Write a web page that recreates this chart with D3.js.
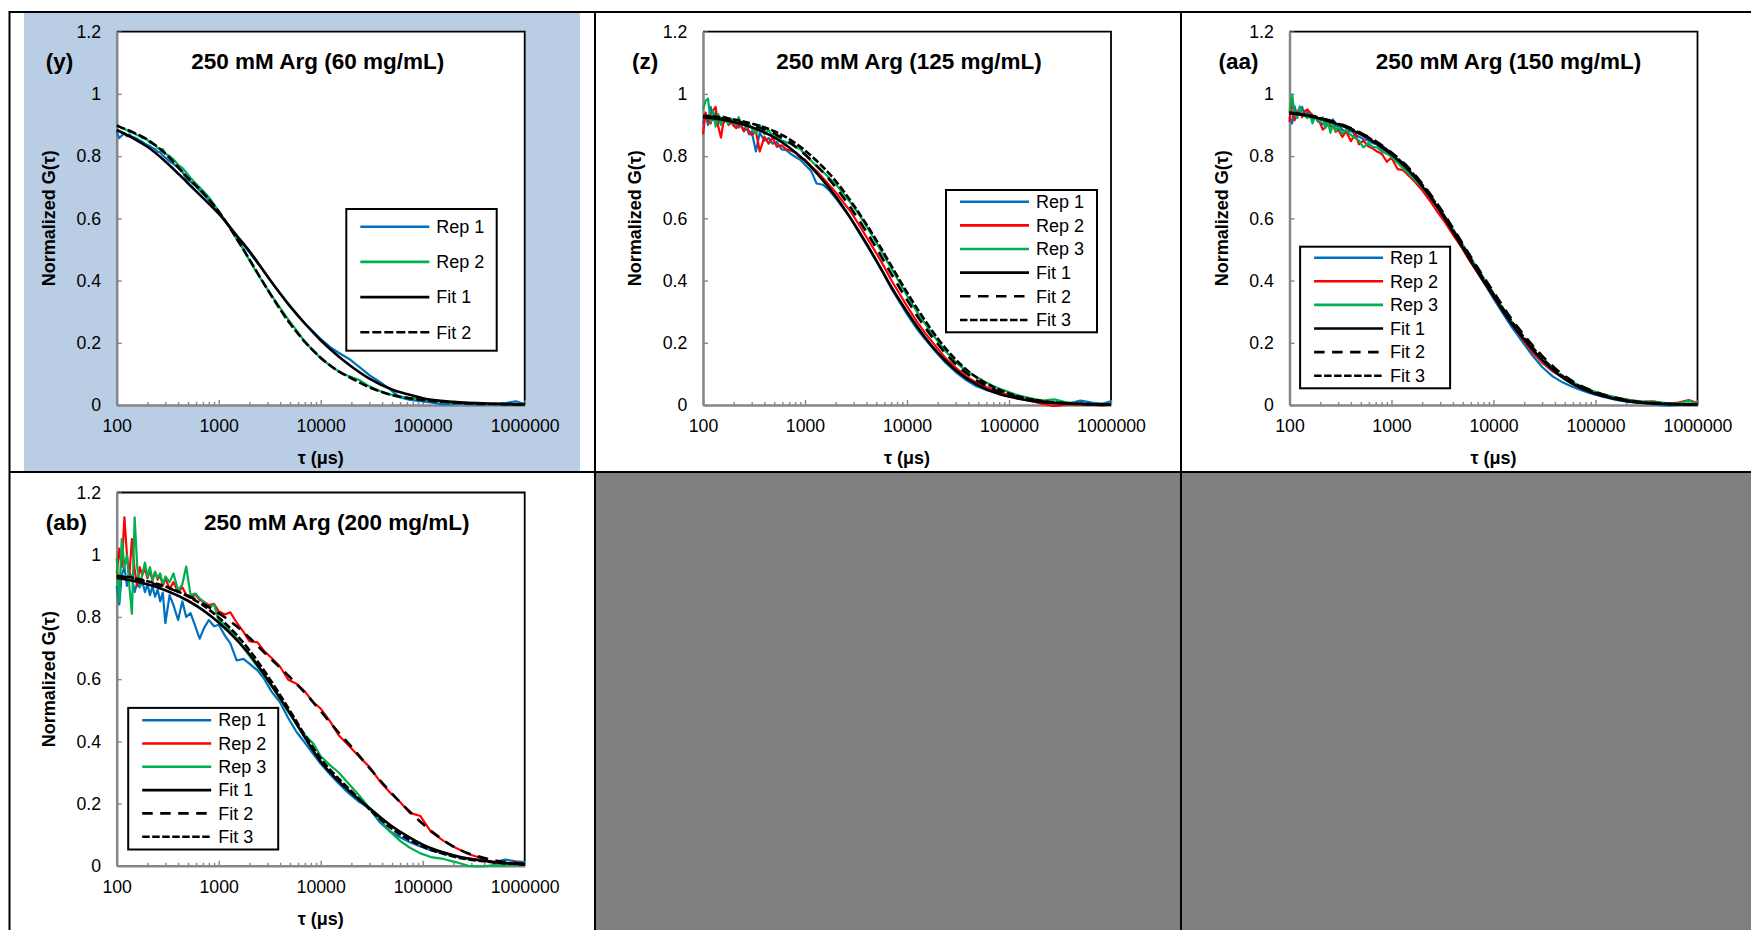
<!DOCTYPE html>
<html>
<head>
<meta charset="utf-8">
<script src="https://cdn.jsdelivr.net/npm/d3@7"></script>
<style>
  html, body { margin: 0; padding: 0; background: #fff; }
  svg { display: block; }
</style>
</head>
<body>
<svg id="fig" width="1751" height="930"></svg>
<script>
// ---------------- data ----------------
// lag times (µs) of the fitted curves
const tauFit = [100,150,200,300,500,700,1000,1500,2000,3000,5000,7000,10000,15000,20000,30000,50000,70000,100000,200000,500000,1000000];
// lag times (µs) of the measured replicates
const tauRep = [100,106,112,119,126,133,141,150,159,168,
  178,189,200,212,224,238,252,267,283,300,
  330,360,400,440,480,530,590,650,720,800,
  900,1000,1150,1300,1500,1750,2000,2400,2800,3300,
  4000,4800,5800,7000,8500,10000,12500,15000,19000,24000,
  30000,38000,48000,60000,75000,95000,120000,160000,210000,280000,
  370000,500000,650000,820000,1000000];

// axis ticks
const xTicks = [100,1000,10000,100000,1000000];
const xTickLabels = ["100","1000","10000","100000","1000000"];
const yTicks = [0,0.2,0.4,0.6,0.8,1,1.2];
const yTickLabels = ["0","0.2","0.4","0.6","0.8","1","1.2"];

// (y) 250 mM Arg, 60 mg/mL
const y_rep1 = [0.878,0.858,0.866,0.874,0.864,0.870,0.862,0.860,0.856,0.850,
  0.846,0.840,0.836,0.832,0.826,0.822,0.814,0.812,0.802,0.795,
  0.783,0.775,0.762,0.750,0.728,0.718,0.705,0.690,0.675,0.660,
  0.640,0.620,0.594,0.570,0.542,0.515,0.490,0.456,0.428,0.394,
  0.358,0.324,0.292,0.262,0.235,0.212,0.185,0.168,0.148,0.122,
  0.096,0.074,0.050,0.024,0.016,0.012,0.008,0.002,0.004,0.003,
  0.001,0.004,0.006,0.012,0.003];
const y_rep2 = [0.902,0.896,0.890,0.887,0.884,0.878,0.877,0.872,0.868,0.866,
  0.858,0.857,0.852,0.843,0.840,0.836,0.826,0.822,0.823,0.808,
  0.800,0.790,0.772,0.762,0.748,0.730,0.714,0.700,0.685,0.668,
  0.645,0.622,0.595,0.568,0.533,0.500,0.465,0.422,0.388,0.352,
  0.312,0.275,0.240,0.203,0.174,0.150,0.126,0.108,0.092,0.080,
  0.060,0.045,0.034,0.027,0.022,0.017,0.013,0.010,0.007,0.005,
  0.004,0.003,0.002,0.002,0.001];
const y_fit1 = [0.884,0.855,0.830,0.783,0.713,0.666,0.615,0.545,0.495,0.414,0.318,0.262,0.208,0.156,0.124,0.085,0.050,0.035,0.022,0.010,0.004,0.002];
const y_fit2 = [0.898,0.874,0.853,0.808,0.730,0.683,0.622,0.535,0.468,0.372,0.262,0.203,0.152,0.108,0.086,0.057,0.032,0.023,0.016,0.008,0.003,0.002];

// (z) 250 mM Arg, 125 mg/mL
const z_rep1 = [0.905,0.935,0.900,0.958,0.915,0.940,0.905,0.922,0.908,0.918,
  0.905,0.912,0.898,0.905,0.892,0.900,0.880,0.892,0.870,0.880,
  0.815,0.875,0.850,0.858,0.840,0.845,0.822,0.820,0.808,0.798,
  0.788,0.772,0.752,0.712,0.708,0.688,0.665,0.630,0.600,0.560,
  0.515,0.472,0.425,0.375,0.330,0.292,0.245,0.212,0.172,0.135,
  0.106,0.080,0.060,0.048,0.040,0.030,0.022,0.014,0.010,0.004,
  0.003,0.014,0.008,0.004,0.012];
const z_rep2 = [0.870,0.940,0.915,0.905,0.948,0.958,0.895,0.860,0.912,0.925,
  0.900,0.908,0.898,0.890,0.905,0.895,0.880,0.900,0.878,0.868,
  0.880,0.815,0.862,0.840,0.860,0.830,0.835,0.822,0.818,0.812,
  0.795,0.788,0.768,0.752,0.730,0.705,0.684,0.650,0.622,0.585,
  0.540,0.498,0.452,0.402,0.356,0.318,0.268,0.232,0.190,0.150,
  0.120,0.092,0.072,0.058,0.046,0.034,0.024,0.014,0.004,-0.004,
  0.002,0.003,0.001,-0.002,0.002];
const z_rep3 = [0.950,0.978,0.985,0.910,0.945,0.895,0.935,0.900,0.928,0.912,
  0.905,0.920,0.905,0.912,0.925,0.900,0.908,0.890,0.905,0.890,
  0.872,0.900,0.870,0.885,0.862,0.862,0.850,0.845,0.840,0.830,
  0.822,0.805,0.785,0.768,0.750,0.728,0.710,0.678,0.650,0.618,
  0.575,0.532,0.485,0.440,0.392,0.352,0.300,0.262,0.215,0.172,
  0.138,0.110,0.090,0.072,0.056,0.044,0.032,0.022,0.014,0.018,
  0.008,0.004,0.003,0.001,0.003];
const z_fit1 = [0.925,0.918,0.910,0.893,0.860,0.828,0.785,0.722,0.670,0.585,0.465,0.380,0.300,0.218,0.168,0.112,0.063,0.042,0.027,0.010,0.003,0.001];
const z_fit2 = [0.928,0.922,0.915,0.900,0.872,0.845,0.805,0.748,0.700,0.620,0.505,0.422,0.338,0.250,0.196,0.132,0.076,0.051,0.033,0.012,0.004,0.001];
const z_fit3 = [0.930,0.925,0.918,0.905,0.880,0.855,0.818,0.765,0.720,0.642,0.530,0.448,0.362,0.272,0.214,0.146,0.085,0.058,0.037,0.014,0.004,0.001];

// (aa) 250 mM Arg, 150 mg/mL
const aa_rep1 = [0.925,0.905,0.960,0.930,0.948,0.958,0.930,0.945,0.925,0.918,
  0.930,0.912,0.908,0.902,0.915,0.898,0.905,0.918,0.895,0.900,
  0.885,0.878,0.882,0.870,0.862,0.855,0.850,0.842,0.838,0.822,
  0.815,0.800,0.782,0.762,0.745,0.720,0.698,0.665,0.636,0.600,
  0.558,0.515,0.470,0.425,0.380,0.342,0.292,0.252,0.205,0.160,
  0.122,0.092,0.072,0.058,0.046,0.035,0.026,0.016,0.010,0.006,
  0.003,-0.002,0.001,0.004,0.002];
const aa_rep2 = [0.910,0.990,0.915,0.940,0.955,0.925,0.945,0.950,0.940,0.932,
  0.925,0.918,0.905,0.885,0.892,0.915,0.895,0.900,0.878,0.885,
  0.862,0.880,0.848,0.872,0.838,0.850,0.832,0.825,0.815,0.808,
  0.782,0.795,0.758,0.755,0.735,0.712,0.690,0.655,0.622,0.590,
  0.548,0.510,0.465,0.425,0.382,0.348,0.300,0.262,0.214,0.170,
  0.136,0.108,0.088,0.068,0.055,0.040,0.030,0.022,0.017,0.010,
  0.012,0.004,0.008,0.016,0.006];
const aa_rep3 = [0.940,0.998,0.935,0.922,0.960,0.935,0.930,0.922,0.935,0.905,
  0.928,0.918,0.910,0.925,0.890,0.912,0.875,0.905,0.880,0.895,
  0.872,0.885,0.868,0.858,0.850,0.828,0.842,0.830,0.828,0.815,
  0.808,0.798,0.778,0.760,0.742,0.718,0.700,0.668,0.640,0.605,
  0.565,0.525,0.480,0.438,0.395,0.358,0.308,0.270,0.222,0.178,
  0.142,0.112,0.090,0.072,0.058,0.045,0.034,0.025,0.016,0.012,
  0.010,0.006,0.005,0.014,0.004];
const aa_fit1 = [0.938,0.930,0.920,0.902,0.870,0.842,0.805,0.752,0.703,0.622,0.505,0.427,0.350,0.262,0.210,0.145,0.083,0.056,0.036,0.013,0.003,0.001];
const aa_fit2 = [0.940,0.932,0.923,0.906,0.875,0.848,0.812,0.760,0.712,0.633,0.518,0.441,0.364,0.277,0.224,0.158,0.093,0.064,0.042,0.016,0.004,0.001];
const aa_fit3 = [0.939,0.931,0.922,0.904,0.873,0.845,0.809,0.756,0.708,0.628,0.512,0.434,0.357,0.270,0.217,0.151,0.088,0.060,0.039,0.014,0.004,0.001];

// (ab) 250 mM Arg, 200 mg/mL
const ab_rep1 = [0.900,0.840,0.935,0.960,0.900,0.945,0.925,0.880,0.910,0.895,
  0.915,0.880,0.905,0.870,0.898,0.865,0.888,0.850,0.878,0.780,
  0.870,0.838,0.790,0.850,0.800,0.812,0.770,0.730,0.765,0.790,
  0.770,0.775,0.740,0.715,0.660,0.665,0.650,0.628,0.600,0.560,
  0.525,0.475,0.430,0.395,0.358,0.328,0.292,0.265,0.232,0.205,
  0.185,0.140,0.110,0.092,0.076,0.062,0.050,0.040,0.030,0.024,
  0.018,0.012,0.020,0.014,0.012];
const ab_rep2 = [0.940,1.020,0.960,1.120,1.000,0.930,1.050,0.950,0.900,0.960,
  0.935,0.955,0.925,0.948,0.918,0.945,0.920,0.935,0.900,0.925,
  0.890,0.912,0.880,0.895,0.872,0.862,0.872,0.855,0.848,0.838,
  0.842,0.818,0.808,0.815,0.782,0.752,0.722,0.718,0.690,0.668,
  0.640,0.598,0.585,0.560,0.525,0.505,0.462,0.420,0.385,0.350,
  0.318,0.272,0.235,0.205,0.170,0.160,0.110,0.080,0.058,0.038,
  0.025,0.010,0.005,0.012,0.004];
const ab_rep3 = [0.990,0.850,1.050,0.960,1.000,0.900,0.810,1.120,0.960,0.900,
  0.935,0.975,0.930,0.960,0.918,0.945,0.925,0.940,0.905,0.930,
  0.912,0.940,0.885,0.905,0.962,0.870,0.875,0.860,0.848,0.830,
  0.840,0.790,0.775,0.755,0.732,0.700,0.675,0.640,0.610,0.580,
  0.535,0.495,0.455,0.420,0.392,0.352,0.322,0.300,0.262,0.225,
  0.185,0.148,0.110,0.080,0.058,0.040,0.028,0.022,0.012,0.000,
  -0.003,0.002,0.001,0.004,0.003];
const ab_fit1 = [0.925,0.915,0.905,0.886,0.852,0.822,0.782,0.726,0.680,0.600,0.490,0.412,0.335,0.272,0.234,0.186,0.127,0.096,0.068,0.034,0.012,0.005];
const ab_fit2 = [0.931,0.922,0.912,0.895,0.868,0.843,0.812,0.770,0.733,0.676,0.606,0.556,0.497,0.428,0.383,0.315,0.232,0.183,0.135,0.062,0.018,0.006];
const ab_fit3 = [0.932,0.925,0.915,0.898,0.866,0.838,0.798,0.742,0.693,0.612,0.498,0.420,0.345,0.280,0.240,0.182,0.119,0.088,0.062,0.030,0.011,0.004];

// ---------------- styles ----------------
const FONT = "'Liberation Sans', Arial, Helvetica, sans-serif";
const BLUE = "#0070C0", RED = "#FF0000", GREEN = "#00B050";
const AXIS_GRAY = "#868686";
const LONG_DASH = "10.5,7.5", SHORT_DASH = "7.5,2.5";
const PW = 408, PH = 373.3;

const panels = [
  { id: "y", label: "(y)", title: "250 mM Arg (60 mg/mL)", left: 116.7, top: 31.7, titleCx: 201,
    legend: { x: 229.6, y: 177.3, w: 150.4, h: 141.7, first: 17.7, step: 35.2 },
    reps: [ { name: "Rep 1", y: y_rep1, color: BLUE }, { name: "Rep 2", y: y_rep2, color: GREEN } ],
    fits: [ { name: "Fit 1", y: y_fit1, dash: null }, { name: "Fit 2", y: y_fit2, dash: "9,3" } ] },
  { id: "z", label: "(z)", title: "250 mM Arg (125 mg/mL)", left: 703, top: 31.7, titleCx: 206,
    legend: { x: 243, y: 158.3, w: 151, h: 142.3, first: 11.7, step: 23.65 },
    reps: [ { name: "Rep 1", y: z_rep1, color: BLUE }, { name: "Rep 2", y: z_rep2, color: RED }, { name: "Rep 3", y: z_rep3, color: GREEN } ],
    fits: [ { name: "Fit 1", y: z_fit1, dash: null }, { name: "Fit 2", y: z_fit2, dash: LONG_DASH }, { name: "Fit 3", y: z_fit3, dash: SHORT_DASH } ] },
  { id: "aa", label: "(aa)", title: "250 mM Arg (150 mg/mL)", left: 1289.5, top: 31.7, titleCx: 219,
    legend: { x: 10.6, y: 215, w: 150, h: 141.6, first: 11, step: 23.6 },
    reps: [ { name: "Rep 1", y: aa_rep1, color: BLUE }, { name: "Rep 2", y: aa_rep2, color: RED }, { name: "Rep 3", y: aa_rep3, color: GREEN } ],
    fits: [ { name: "Fit 1", y: aa_fit1, dash: null }, { name: "Fit 2", y: aa_fit2, dash: LONG_DASH }, { name: "Fit 3", y: aa_fit3, dash: SHORT_DASH } ] },
  { id: "ab", label: "(ab)", title: "250 mM Arg (200 mg/mL)", left: 116.7, top: 492.5, titleCx: 220,
    legend: { x: 11.5, y: 215.4, w: 150, h: 141.6, first: 12.3, step: 23.3 },
    reps: [ { name: "Rep 1", y: ab_rep1, color: BLUE }, { name: "Rep 2", y: ab_rep2, color: RED }, { name: "Rep 3", y: ab_rep3, color: GREEN } ],
    fits: [ { name: "Fit 1", y: ab_fit1, dash: null }, { name: "Fit 2", y: ab_fit2, dash: LONG_DASH }, { name: "Fit 3", y: ab_fit3, dash: SHORT_DASH } ] }
];

// ---------------- page table ----------------
const svg = d3.select("#fig");
svg.append("rect").attr("x", 24).attr("y", 13).attr("width", 556).attr("height", 458.5).attr("fill", "#B9CDE5");
svg.append("rect").attr("x", 596).attr("y", 473).attr("width", 584).attr("height", 457).attr("fill", "#808080");
svg.append("rect").attr("x", 1182).attr("y", 473).attr("width", 569).attr("height", 457).attr("fill", "#808080");

const rules = [[9.5, 12, 1751, 12], [9.5, 11, 9.5, 930], [595, 11, 595, 930], [1181, 11, 1181, 930], [9.5, 472, 1751, 472]];
svg.append("g").selectAll("line").data(rules).join("line")
  .attr("x1", d => d[0]).attr("y1", d => d[1]).attr("x2", d => d[2]).attr("y2", d => d[3])
  .attr("stroke", "#000").attr("stroke-width", 2);

// minor ticks on the log axis: 2..9 within each decade
const xMinor = xTicks.slice(0, -1).flatMap(d => [2, 3, 4, 5, 6, 7, 8, 9].map(m => m * d));

function styleAxis(sel) {
  sel.attr("font-family", FONT).attr("font-size", 17.7);
  sel.select(".domain").attr("stroke", AXIS_GRAY).attr("stroke-width", 2.5);
  sel.selectAll(".tick line").attr("stroke", AXIS_GRAY).attr("stroke-width", 1.4);
  sel.selectAll(".tick text").attr("fill", "#000");
}

function drawPanel(p) {
  const g = svg.append("g").attr("transform", `translate(${p.left},${p.top})`);
  const x = d3.scaleLog().domain([100, 1e6]).range([0, PW]);
  const y = d3.scaleLinear().domain([0, 1.2]).range([PH, 0]);

  const clipId = "clip-" + p.id;
  g.append("clipPath").attr("id", clipId)
    .append("rect").attr("x", -2).attr("y", -2).attr("width", PW + 4).attr("height", PH + 4);

  // plot area
  g.append("rect").attr("width", PW).attr("height", PH).attr("fill", "#fff");
  g.append("path").attr("d", `M0,0H${PW}V${PH}`).attr("fill", "none")
    .attr("stroke", "#000").attr("stroke-width", 1.8);

  // x axis: minor then major ticks (inside)
  g.append("g").attr("transform", `translate(0,${PH})`)
    .call(d3.axisBottom(x).tickValues(xMinor).tickSize(-3).tickSizeOuter(0).tickFormat(""))
    .call(styleAxis)
    .call(s => s.select(".domain").remove());
  g.append("g").attr("transform", `translate(0,${PH})`)
    .call(d3.axisBottom(x).tickValues(xTicks).tickSize(-5).tickSizeOuter(0).tickPadding(14.5)
      .tickFormat((d, i) => xTickLabels[i]))
    .call(styleAxis);

  // y axis
  g.append("g")
    .call(d3.axisLeft(y).tickValues(yTicks).tickSize(-5).tickSizeOuter(0).tickPadding(15.7)
      .tickFormat((d, i) => yTickLabels[i]))
    .call(styleAxis);

  // curves: replicates first, fits on top
  const line = d3.line().x(d => x(d[0])).y(d => y(d[1]));
  const smooth = d3.line().x(d => x(d[0])).y(d => y(d[1])).curve(d3.curveMonotoneX);
  const curves = g.append("g").attr("clip-path", `url(#${clipId})`).attr("fill", "none");
  p.reps.forEach(s => {
    curves.append("path").attr("d", line(d3.zip(tauRep, s.y)))
      .attr("stroke", s.color).attr("stroke-width", 2.2).attr("stroke-linejoin", "round");
  });
  p.fits.forEach(s => {
    curves.append("path").attr("d", smooth(d3.zip(tauFit, s.y)))
      .attr("stroke", "#000").attr("stroke-width", 2.6)
      .attr("stroke-dasharray", s.dash);
  });

  // titles
  g.append("text").attr("x", p.titleCx).attr("y", 37).attr("text-anchor", "middle")
    .attr("font-family", FONT).attr("font-weight", "bold").attr("font-size", 22.5).text(p.title);
  g.append("text").attr("x", -71).attr("y", 37)
    .attr("font-family", FONT).attr("font-weight", "bold").attr("font-size", 22.5).text(p.label);
  g.append("text").attr("transform", `translate(-68,${PH / 2}) rotate(-90)`).attr("dy", "0.35em")
    .attr("text-anchor", "middle").attr("font-family", FONT).attr("font-weight", "bold").attr("font-size", 18)
    .text("Normalized G(τ)");
  g.append("text").attr("x", PW / 2).attr("y", PH + 59).attr("text-anchor", "middle")
    .attr("font-family", FONT).attr("font-weight", "bold").attr("font-size", 18).text("τ (μs)");

  // legend
  const L = p.legend;
  const lg = g.append("g").attr("transform", `translate(${L.x},${L.y})`);
  lg.append("rect").attr("width", L.w).attr("height", L.h).attr("fill", "#fff")
    .attr("stroke", "#000").attr("stroke-width", 2);
  const entries = p.reps.map(s => ({ name: s.name, color: s.color, dash: null, w: 2.6 }))
    .concat(p.fits.map(s => ({ name: s.name, color: "#000", dash: s.dash, w: 2.6 })));
  entries.forEach((s, i) => {
    const yy = L.first + i * L.step;
    lg.append("line").attr("x1", 14).attr("x2", 83).attr("y1", yy).attr("y2", yy)
      .attr("stroke", s.color).attr("stroke-width", s.w).attr("stroke-dasharray", s.dash);
    lg.append("text").attr("x", 90).attr("y", yy).attr("dy", "0.35em")
      .attr("font-family", FONT).attr("font-size", 18).attr("fill", "#000").text(s.name);
  });
}

panels.forEach(drawPanel);
</script>
</body>
</html>
